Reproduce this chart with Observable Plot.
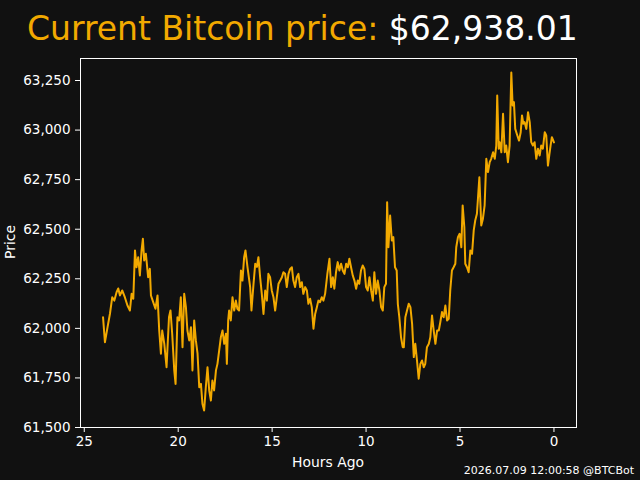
<!DOCTYPE html>
<html>
<head>
<meta charset="utf-8">
<script src="https://cdn.jsdelivr.net/npm/d3@7"></script>
<script src="https://cdn.jsdelivr.net/npm/@observablehq/plot@0.6"></script>
<style>
  html, body { margin: 0; padding: 0; background: #111111; }
  #wrap { position: relative; width: 640px; height: 480px; overflow: hidden; background: #111111; }
  #wrap svg { display: block; }
  #overlay { position: absolute; left: 0; top: 0; pointer-events: none; }
</style>
</head>
<body>
<div id="wrap"></div>
<script>
// ---- data ----
const hoursAgo = [
  24.00,23.90,23.76,23.63,23.51,23.40,23.28,23.19,23.10,22.98,22.84,22.70,22.57,22.48,22.39,22.30,22.22,22.13,22.04,21.95,
  21.88,21.81,21.72,21.60,21.51,21.45,21.33,21.21,21.10,21.01,20.92,20.85,20.74,20.62,20.49,20.41,20.32,20.21,20.14,
  20.04,19.95,19.86,19.77,19.68,19.59,19.51,19.41,19.32,19.24,19.15,19.06,18.97,18.88,18.79,18.71,18.62,18.53,18.44,18.35,
  18.26,18.18,18.09,17.99,17.91,17.82,17.73,17.64,17.55,17.46,17.41,17.34,17.29,17.20,17.11,17.02,16.93,16.85,16.76,16.66,
  16.58,16.49,16.42,16.31,16.17,16.10,
  15.99,15.90,15.81,15.73,15.64,15.55,15.46,15.37,15.28,15.20,15.11,15.02,14.93,14.84,14.75,14.66,14.57,14.48,14.40,14.31,
  14.22,14.13,14.04,13.95,13.87,13.78,13.69,13.60,13.51,13.42,13.34,13.24,13.15,13.07,12.98,12.89,12.80,12.71,12.62,12.54,
  12.45,12.36,12.27,12.18,12.06,
  11.95,11.86,11.77,11.69,11.60,11.51,11.42,11.33,11.24,11.15,11.06,10.97,10.89,10.80,10.71,10.62,10.53,10.44,10.36,10.27,
  10.18,10.09,10.00,9.91,9.82,9.73,9.64,9.56,9.47,9.38,9.29,9.20,9.11,9.03,8.94,8.88,8.81,8.72,8.63,8.55,
  8.46,8.37,8.31,8.23,8.14,8.05,
  7.99,7.91,7.82,7.73,7.64,7.55,7.46,7.38,7.29,7.20,7.11,7.02,6.93,6.85,6.76,6.66,6.58,6.49,6.40,6.31,
  6.22,6.13,6.05,5.96,5.87,5.78,5.69,5.60,5.52,5.43,5.34,5.25,5.20,5.11,5.02,4.93,4.86,4.77,4.72,4.63,
  4.54,4.45,4.36,4.27,4.19,4.10,4.04,3.97,
  3.87,3.78,3.69,3.60,3.51,3.42,3.34,3.24,3.15,3.07,3.02,2.94,2.89,2.80,2.71,2.62,2.54,2.45,2.36,2.27,
  2.20,2.13,2.06,1.95,1.86,1.77,1.70,1.63,1.56,1.47,1.38,1.29,1.21,1.12,1.03,0.94,0.85,0.76,0.68,0.59,
  0.49,0.41,0.32,0.25,0.18,0.11,0.00
];
const price = [
  62056,61930,62006,62075,62157,62140,62182,62201,62166,62191,62157,62115,62090,62174,62149,62393,62308,62359,62267,62393,
  62452,62342,62376,62258,62300,62166,62132,62099,62166,61989,61872,61989,61922,61804,62056,62090,61973,61788,61720,
  62056,62040,62157,61905,62174,62107,61989,61939,62006,61788,62040,61939,61872,61703,61720,61620,61586,61703,61804,61687,
  61636,61737,61687,61788,61821,61888,61955,61989,61922,61973,61821,62040,62090,62040,62157,62090,62140,62099,62090,62292,
  62241,62359,62393,62308,62208,62090,
  62225,62326,62310,62359,62258,62174,62073,62191,62140,62275,62258,62191,62157,62090,62157,62225,62241,62258,62283,62275,
  62208,62275,62300,62308,62241,62208,62258,62275,62208,62233,62174,62208,62191,62124,62149,62107,61998,62073,62107,62140,
  62132,62157,62140,62174,62275,
  62351,62208,62258,62200,62283,62334,62292,62326,62292,62275,62326,62308,62351,62308,62267,62241,62200,62241,62225,62292,
  62317,62300,62208,62191,62258,62191,62140,62283,62174,62241,62191,62107,62090,62208,62225,62636,62409,62569,62443,62460,
  62308,62292,62124,62056,61955,61905,
  61905,62056,62090,62124,62107,62023,61855,61922,61838,61746,61821,61838,61804,61821,61905,61922,61955,62065,61989,61922,
  61989,61989,62031,62082,62056,62115,62040,62048,62191,62292,62308,62326,62409,62460,62477,62409,62620,62510,62326,62308,
  62283,62393,62376,62494,62544,62578,62662,62762,
  62519,62553,62620,62855,62788,62838,62855,62888,62855,62922,63174,62906,62939,62888,63082,62888,62922,62838,62922,63290,
  63124,63141,63006,62973,62947,62989,63074,63032,63040,63006,63090,63040,62939,62922,62939,62855,62906,62872,62922,62906,
  62989,62973,62821,62872,62922,62964,62938
];
const xTicks = [25, 20, 15, 10, 5, 0];
const yTicks = [61500, 61750, 62000, 62250, 62500, 62750, 63000, 63250];
const titleLabel = "Current Bitcoin price: ";
const titleValue = "$62,938.01";
const xLabel = "Hours Ago";
const yLabel = "Price";
const footer = "2026.07.09 12:00:58 @BTCBot";

const data = hoursAgo.map((h, i) => ({h, p: price[i]}));
const ORANGE = "#f2a900";
const FONT = "DejaVu Sans, sans-serif";

const chart = Plot.plot({
  width: 640,
  height: 480,
  marginLeft: 80,
  marginRight: 64,
  marginTop: 58,
  marginBottom: 53,
  style: {background: "#111111", color: "white", fontFamily: FONT, fontSize: "13.5px", overflow: "visible"},
  x: {domain: [25.2, -1.2]},
  y: {domain: [61500, 63361]},
  marks: [
    Plot.axisX({ticks: xTicks, tickSize: 5, tickPadding: 4, tickFormat: d => String(d), label: null, fontSize: 13.5}),
    Plot.axisY({ticks: yTicks, tickSize: 5, tickPadding: 5, tickFormat: d3.format(","), label: null, fontSize: 13.5}),
    Plot.line(data, {x: "h", y: "p", stroke: ORANGE, strokeWidth: 2}),
    Plot.frame({stroke: "white", strokeWidth: 1})
  ]
});
document.getElementById("wrap").appendChild(chart);

// text overlay (title, axis labels, footer)
const ov = d3.select("#wrap").append("svg")
  .attr("id", "overlay").attr("width", 640).attr("height", 480)
  .style("font-family", FONT);
const t = ov.append("text").attr("x", 27).attr("y", 40).attr("font-size", 33);
t.append("tspan").attr("fill", ORANGE).text(titleLabel);
t.append("tspan").attr("fill", "white").text(titleValue);
ov.append("text").attr("x", 328).attr("y", 467).attr("text-anchor", "middle")
  .attr("font-size", 13.9).attr("fill", "white").text(xLabel);
ov.append("text").attr("transform", "translate(15,242) rotate(-90)").attr("text-anchor", "middle")
  .attr("font-size", 13.9).attr("fill", "white").text(yLabel);
ov.append("text").attr("x", 634).attr("y", 474).attr("text-anchor", "end")
  .attr("font-size", 11).attr("fill", "white").text(footer);
</script>
</body>
</html>
